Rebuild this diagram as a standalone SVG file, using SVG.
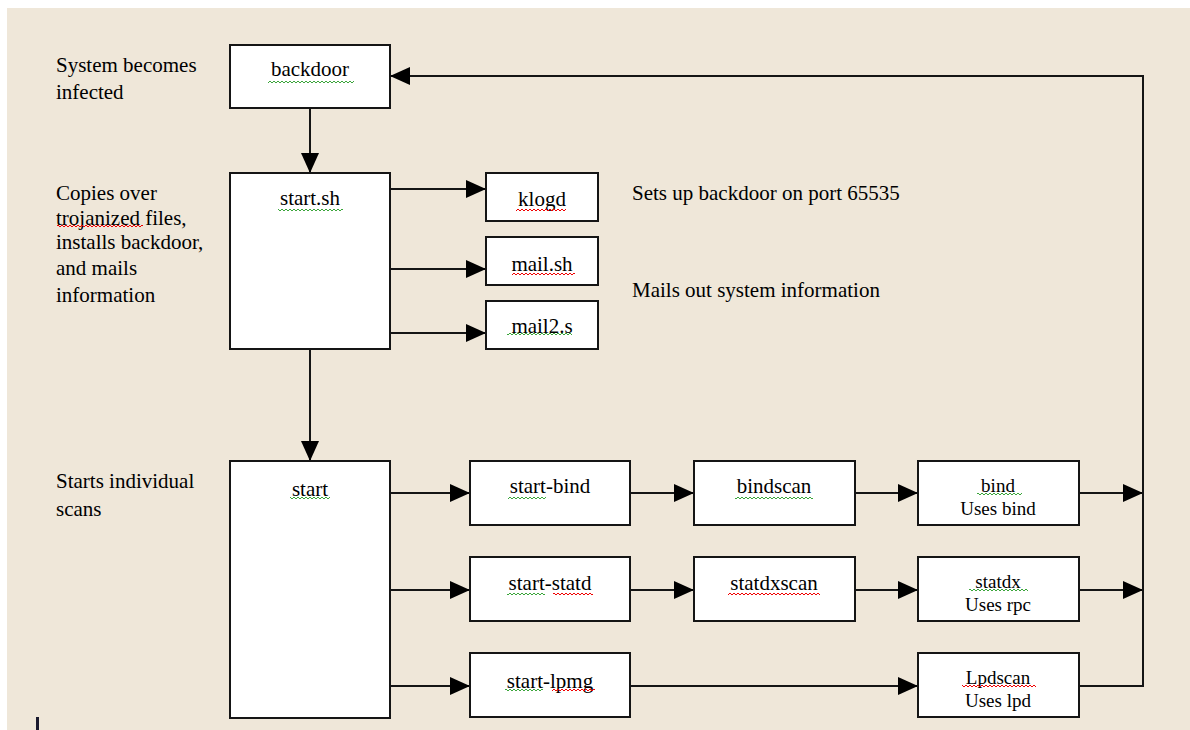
<svg xmlns="http://www.w3.org/2000/svg" width="1190" height="730" viewBox="0 0 1190 730">
<style>
.box{fill:#fff;stroke:#151515;stroke-width:2}
.lbl{font-family:"Liberation Serif","DejaVu Serif",serif;font-size:21px;fill:#000}
.sm{font-size:19px}
.c{text-anchor:middle}
.con{fill:none;stroke:#151515;stroke-width:2}
</style>
<defs>
<marker id="ah" markerUnits="userSpaceOnUse" markerWidth="20" markerHeight="20" refX="20" refY="9" orient="auto">
<path d="M0,0 L20,9 L0,18 Z" fill="#000"/>
</marker>
<pattern id="sqG" patternUnits="userSpaceOnUse" width="4" height="4">
<path d="M0,3 L2,1 L4,3" fill="none" stroke="#3aa53a" stroke-width="1"/>
</pattern>
<pattern id="sqR" patternUnits="userSpaceOnUse" width="4" height="4">
<path d="M0,3 L2,1 L4,3" fill="none" stroke="#f00000" stroke-width="1"/>
</pattern>
</defs>
<rect x="0" y="0" width="1190" height="730" fill="#fff"/>
<rect x="7" y="8" width="1183" height="722" fill="#efe7d9"/>

<g id="notes">
<text class="lbl" x="56" y="72">System becomes</text>
<text class="lbl" x="56" y="99">infected</text>
<text class="lbl" x="56" y="200">Copies over</text>
<text class="lbl" x="56" y="225">trojanized files,</text>
<text class="lbl" x="56" y="249">installs backdoor,</text>
<text class="lbl" x="56" y="275">and mails</text>
<text class="lbl" x="56" y="302">information</text>
<text class="lbl" x="56" y="488">Starts individual</text>
<text class="lbl" x="56" y="516">scans</text>
<text class="lbl" x="632" y="200">Sets up backdoor on port 65535</text>
<text class="lbl" x="632" y="297">Mails out system information</text>
</g>

<g id="connectors">
<path class="con" d="M310,108 V173" marker-end="url(#ah)"/>
<path class="con" d="M310,349 V461" marker-end="url(#ah)"/>
<path class="con" d="M390,189 H486" marker-end="url(#ah)"/>
<path class="con" d="M390,269 H486" marker-end="url(#ah)"/>
<path class="con" d="M390,333 H486" marker-end="url(#ah)"/>
<path class="con" d="M390,493 H470" marker-end="url(#ah)"/>
<path class="con" d="M390,590 H470" marker-end="url(#ah)"/>
<path class="con" d="M390,686 H470" marker-end="url(#ah)"/>
<path class="con" d="M630,493 H694" marker-end="url(#ah)"/>
<path class="con" d="M855,493 H918" marker-end="url(#ah)"/>
<path class="con" d="M630,590 H694" marker-end="url(#ah)"/>
<path class="con" d="M855,590 H918" marker-end="url(#ah)"/>
<path class="con" d="M630,686 H918" marker-end="url(#ah)"/>
<path class="con" d="M1079,493 H1143" marker-end="url(#ah)"/>
<path class="con" d="M1079,590 H1143" marker-end="url(#ah)"/>
<path class="con" d="M1079,686 H1143 V76 H390" marker-end="url(#ah)"/>
</g>

<g id="backdoor"><rect class="box" x="230" y="45" width="160" height="63"/><text class="lbl c" x="310" y="76">backdoor</text></g>
<g id="start_sh"><rect class="box" x="230" y="173" width="160" height="176"/><text class="lbl c" x="310" y="205">start.sh</text></g>
<g id="klogd"><rect class="box" x="486" y="173" width="112" height="48"/><text class="lbl c" x="542" y="206">klogd</text></g>
<g id="mail_sh"><rect class="box" x="486" y="237" width="112" height="48"/><text class="lbl c" x="542" y="271">mail.sh</text></g>
<g id="mail2_s"><rect class="box" x="486" y="301" width="112" height="48"/><text class="lbl c" x="542" y="333">mail2.s</text></g>
<g id="start"><rect class="box" x="230" y="461" width="160" height="257"/><text class="lbl c" x="310" y="496">start</text></g>
<g id="start-bind"><rect class="box" x="470" y="461" width="160" height="64"/><text class="lbl c" x="550" y="493">start-bind</text></g>
<g id="bindscan"><rect class="box" x="694" y="461" width="161" height="64"/><text class="lbl c" x="774" y="493">bindscan</text></g>
<g id="bind"><rect class="box" x="918" y="461" width="161" height="64"/><text class="lbl sm c" x="998" y="492">bind</text><text class="lbl sm c" x="998" y="515">Uses bind</text></g>
<g id="start-statd"><rect class="box" x="470" y="557" width="160" height="64"/><text class="lbl c" x="550" y="590">start-statd</text></g>
<g id="statdxscan"><rect class="box" x="694" y="557" width="161" height="64"/><text class="lbl c" x="774" y="590">statdxscan</text></g>
<g id="statdx"><rect class="box" x="918" y="557" width="161" height="64"/><text class="lbl sm c" x="998" y="588">statdx</text><text class="lbl sm c" x="998" y="611">Uses rpc</text></g>
<g id="start-lpmg"><rect class="box" x="470" y="653" width="160" height="64"/><text class="lbl c" x="550" y="688">start-lpmg</text></g>
<g id="Lpdscan"><rect class="box" x="918" y="653" width="161" height="64"/><text class="lbl sm c" x="998" y="684">Lpdscan</text><text class="lbl sm c" x="998" y="707">Uses lpd</text></g>

<g id="spellcheck">
<rect x="268" y="80" width="86" height="4" fill="url(#sqG)"/>
<rect x="278" y="208" width="65" height="4" fill="url(#sqG)"/>
<rect x="57" y="224" width="86" height="4" fill="url(#sqR)"/>
<rect x="516" y="208" width="50" height="4" fill="url(#sqR)"/>
<rect x="512" y="272" width="63" height="4" fill="url(#sqR)"/>
<rect x="507" y="332" width="65" height="4" fill="url(#sqG)"/>
<rect x="290" y="496" width="40" height="4" fill="url(#sqG)"/>
<rect x="508" y="496" width="38" height="4" fill="url(#sqG)"/>
<rect x="735" y="496" width="78" height="4" fill="url(#sqG)"/>
<rect x="507" y="592" width="38" height="4" fill="url(#sqG)"/>
<rect x="553" y="592" width="40" height="4" fill="url(#sqR)"/>
<rect x="728" y="592" width="92" height="4" fill="url(#sqR)"/>
<rect x="505" y="688" width="38" height="4" fill="url(#sqG)"/>
<rect x="552" y="688" width="43" height="4" fill="url(#sqR)"/>
<rect x="977" y="492" width="45" height="4" fill="url(#sqG)"/>
<rect x="969" y="588" width="59" height="4" fill="url(#sqG)"/>
<rect x="962" y="684" width="74" height="4" fill="url(#sqR)"/>
</g>
<rect x="36" y="717" width="3" height="13" fill="#1a1a2e"/>
</svg>
